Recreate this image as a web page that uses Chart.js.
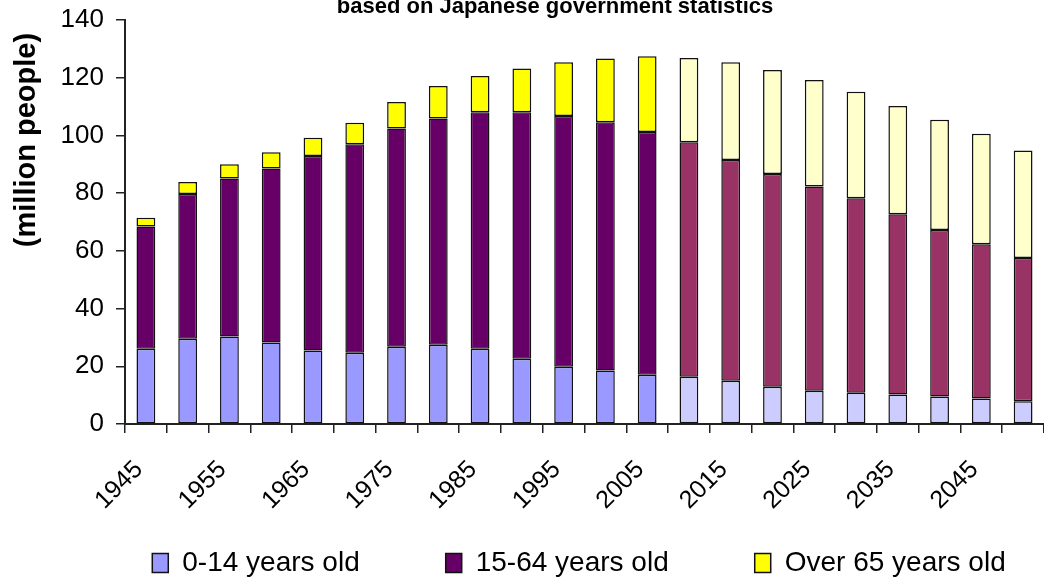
<!DOCTYPE html>
<html>
<head>
<meta charset="utf-8">
<script src="https://cdn.jsdelivr.net/npm/chart.js@4"></script>
<style>
  body { margin: 0; background: #fff; }
  #wrap { width: 1044px; height: 581px; }
</style>
</head>
<body>
<div id="wrap"><canvas id="popChart" width="1044" height="581"></canvas></div>
<script>
const years = ["1945", "1950", "1955", "1960", "1965", "1970", "1975", "1980", "1985", "1990", "1995",
  "2000", "2005", "2010", "2015", "2020", "2025", "2030", "2035", "2040", "2045", "2050"];
const age0to14 = [26.1, 29.5, 30.3, 28.2, 25.5, 24.7, 26.8, 27.5, 26.1, 22.6, 19.8,
  18.5, 17.1, 16.4, 15.0, 12.9, 11.5, 10.8, 10.2, 9.5, 8.8, 7.9];
const age15to64 = [42.3, 50.2, 54.8, 60.3, 67.4, 72.2, 75.6, 78.4, 81.9, 85.4, 86.9,
  86.1, 84.1, 81.2, 76.5, 73.7, 70.8, 67.4, 62.5, 57.7, 53.5, 49.6];
const age65plus = [3.1, 4.2, 4.9, 5.7, 6.3, 7.5, 9.2, 11.2, 12.6, 15.2, 18.7,
  22.1, 26.2, 29.2, 33.9, 36.1, 36.9, 36.9, 37.5, 38.2, 38.3, 37.3];
const seriesNames = ["0-14 years old", "15-64 years old", "Over 65 years old"];
const yTicks = [0, 20, 40, 60, 80, 100, 120, 140];
const firstProjection = "2010";

const pastColors = ["#9999ff", "#660066", "#ffff00"];
const projColors = ["#ccccff", "#993366", "#ffffcc"];
const FONT = '"Liberation Sans", Arial, sans-serif';

const projStart = years.indexOf(firstProjection);

function barColor(i) {
  return (c) => (c.dataIndex >= projStart ? projColors[i] : pastColors[i]);
}

function makeSet(i, data) {
  return {
    label: seriesNames[i],
    data: data,
    backgroundColor: barColor(i),
    borderColor: "#111",
    borderWidth: 1.5,
    borderSkipped: false,
    categoryPercentage: 1,
    barPercentage: 0.45
  };
}

// title line (clipped at the top like the source) and the rotated y title
const extraText = {
  id: "extraText",
  afterLayout(chart) {
    // the source legend sits a bit right of the canvas centre
    chart.legend.left += 57;
    chart.legend.right += 57;
  },
  afterDraw(chart) {
    const ctx = chart.ctx;
    ctx.save();
    ctx.fillStyle = "#000";
    ctx.font = "bold 22px " + FONT;
    ctx.textAlign = "center";
    ctx.textBaseline = "alphabetic";
    ctx.fillText("based on Japanese government statistics", 555, 13);

    ctx.translate(27, 140);
    ctx.rotate(-Math.PI / 2);
    ctx.font = "bold 29px " + FONT;
    ctx.textBaseline = "middle";
    ctx.fillText("(million people)", 0, 0);
    ctx.restore();
  }
};

new Chart(document.getElementById("popChart"), {
  type: "bar",
  data: {
    labels: years,
    datasets: [
      makeSet(0, age0to14),
      makeSet(1, age15to64),
      makeSet(2, age65plus)
    ]
  },
  plugins: [extraText],
  options: {
    responsive: false,
    animation: false,
    layout: { padding: { top: 20, right: 0, left: 0, bottom: -6 } },
    scales: {
      x: {
        stacked: true,
        grid: { display: true, drawOnChartArea: false, drawTicks: true, tickLength: 9, color: "#222", offset: true, lineWidth: 1.5 },
        border: { display: true, color: "#222", width: 2 },
        ticks: {
          autoSkip: false,
          minRotation: 45,
          maxRotation: 45,
          padding: 22,
          labelOffset: -7,
          color: "#000",
          font: { family: FONT, size: 25 },
          callback: (v, i) => (i % 2 === 0 ? years[i] : "")
        },
        afterFit: (s) => {
          // short axis box so the legend sits where the source has it;
          // let the year labels run past the box instead of being clipped
          s.height = 39;
          s.paddingLeft = 0;
          s.paddingRight = 0;
          s._computeLabelArea = () => undefined;
        }
      },
      y: {
        stacked: true,
        min: 0,
        max: 140,
        afterBuildTicks: (s) => { s.ticks = yTicks.map((v) => ({ value: v })); },
        grid: { display: true, drawOnChartArea: false, drawTicks: true, tickLength: 9, color: "#222", lineWidth: 1.5 },
        border: { display: true, color: "#222", width: 2 },
        ticks: {
          padding: 12,
          color: "#000",
          font: { family: FONT, size: 26 }
        },
        afterFit: (s) => {
          s.width = 125;
          s.paddingTop = 0;
          s.paddingBottom = 0;
        }
      }
    },
    plugins: {
      title: { display: false },
      tooltip: { enabled: false },
      legend: {
        position: "bottom",
        labels: {
          color: "#000",
          font: { family: FONT, size: 28 },
          boxWidth: 16,
          boxHeight: 19,
          padding: 86
        }
      }
    }
  }
});
</script>
</body>
</html>
